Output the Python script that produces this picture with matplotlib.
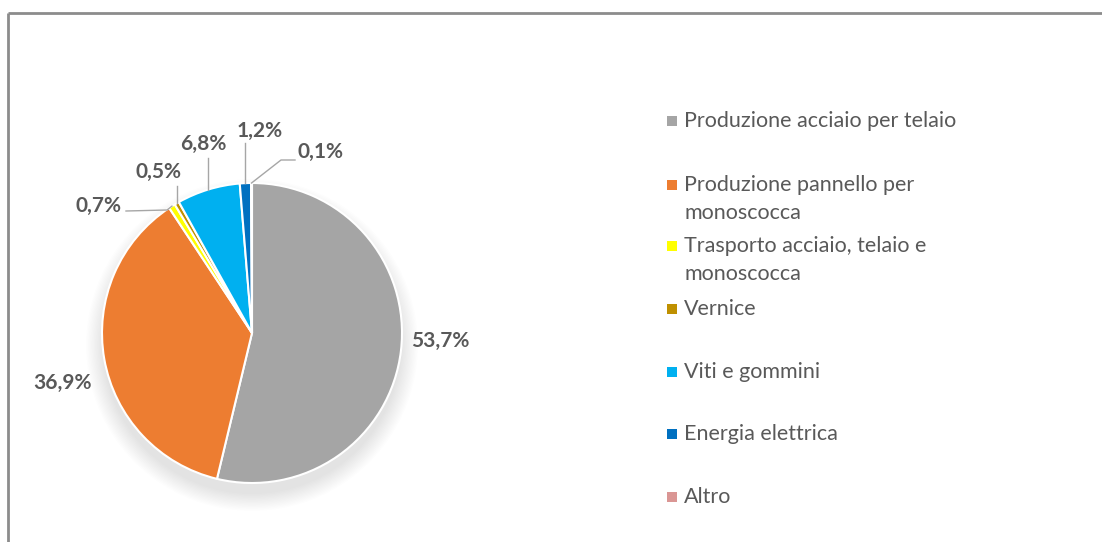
import numpy as np
import matplotlib.pyplot as plt
from matplotlib.patches import Circle, Rectangle

categories = [
    "Produzione acciaio per telaio",
    "Produzione pannello per\nmonoscocca",
    "Trasporto acciaio, telaio e\nmonoscocca",
    "Vernice",
    "Viti e gommini",
    "Energia elettrica",
    "Altro",
]
shares = [53.7, 36.9, 0.7, 0.5, 6.8, 1.2, 0.1]
pct_labels = ["53,7%", "36,9%", "0,7%", "0,5%", "6,8%", "1,2%", "0,1%"]
colors = ["#A5A5A5", "#ED7D31", "#FFFF00", "#BF9000", "#00B0F0", "#0070C0", "#DA9694"]

W, H = 1102, 542
TXT = "#595959"
plt.rcParams["font.family"] = ["Lato", "DejaVu Sans"]

fig = plt.figure(figsize=(W / 100, H / 100), dpi=100)
ax = fig.add_axes([0, 0, 1, 1])


def py(y):
    # pixel row (from top) -> data y
    return H - y


cx, cy, r = 252, py(333), 150

# soft shadow under the pie
for k in range(14):
    ax.add_patch(Circle((cx, cy - 12), r + 16 - k * 1.3, color="black",
                        alpha=0.009, lw=0, zorder=1))

wedges, _ = ax.pie(shares, colors=colors, startangle=90, counterclock=False,
                   center=(cx, cy), radius=r, frame=True,
                   wedgeprops=dict(edgecolor="white", linewidth=1.5, zorder=2))
ax.set_xlim(0, W)
ax.set_ylim(0, H)
ax.set_aspect("equal")
ax.axis("off")

# label anchor (text center) and leader route, pixel coords from top
label_pos = [(440, 341), (62, 383), (99, 206), (158, 172), (203, 144), (260, 131), (320, 152)]
leaders = {
    2: [(167, 210), (126, 211)],
    3: [(176, 186)],
    4: [(207, 158)],
    5: [(243, 143)],
    6: [(281, 160), (295, 160)],
}

for i, w in enumerate(wedges):
    lx, ly = label_pos[i]
    ax.text(lx, py(ly), pct_labels[i], ha="center", va="center",
            fontsize=15, fontweight="bold", color=TXT, zorder=5)
    if i in leaders:
        mid = np.deg2rad((w.theta1 + w.theta2) / 2)
        ex, ey = cx + r * np.cos(mid), cy + r * np.sin(mid)
        xs = [ex] + [p[0] for p in leaders[i]]
        ys = [ey] + [py(p[1]) for p in leaders[i]]
        if i in (3, 4, 5):
            xs = [ex, ex]
        ax.plot(xs, ys, color="#A6A6A6", lw=1, zorder=4)

# legend
legend_rows = [121, 185, 246, 309, 372, 434, 497]
for cat, col, y in zip(categories, colors, legend_rows):
    ax.add_patch(Rectangle((667, py(y) - 5), 10, 10, color=col, lw=0))
    for j, line in enumerate(cat.split("\n")):
        ax.text(684, py(y + j * 28), line, ha="left", va="center",
                fontsize=15.5, color=TXT)

# chart frame
ax.plot([8, W], [py(13), py(13)], color="#8C8C8C", lw=2, solid_capstyle="butt")
ax.plot([8, 8], [py(13), 0], color="#8C8C8C", lw=2, solid_capstyle="butt")

fig.savefig("out.png", dpi=100)
